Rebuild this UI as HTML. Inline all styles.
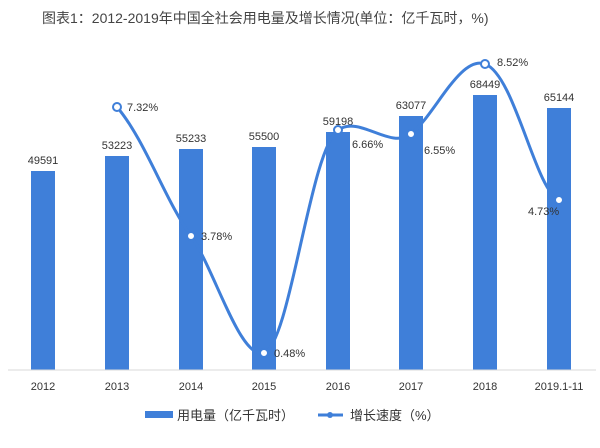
<!DOCTYPE html>
<html><head><meta charset="utf-8"><style>
body{margin:0;background:#fff;width:600px;height:443px;overflow:hidden}
text{font-family:"Liberation Sans","Noto Sans CJK SC",sans-serif}
</style></head><body>
<svg width="600" height="443" viewBox="0 0 600 443">
<text x="42" y="23" font-size="14" fill="#444">图表1：2012-2019年中国全社会用电量及增长情况(单位：亿千瓦时，%)</text>
<g fill="#3f7fd9">
<rect x="31" y="171" width="24" height="199"/>
<rect x="105" y="156" width="24" height="214"/>
<rect x="179" y="149" width="24" height="221"/>
<rect x="252" y="147" width="24" height="223"/>
<rect x="326" y="132" width="24" height="238"/>
<rect x="399" y="116" width="24" height="254"/>
<rect x="473" y="95" width="24" height="275"/>
<rect x="547" y="108" width="24" height="262"/>
</g>
<line x1="8" y1="370" x2="596" y2="370" stroke="#d9d9d9"/>
<g font-size="11" fill="#333" text-anchor="middle">
<text x="43" y="164">49591</text><text x="117" y="149">53223</text>
<text x="191" y="142">55233</text><text x="264" y="140">55500</text>
<text x="338" y="125">59198</text><text x="411" y="109">63077</text>
<text x="485" y="88">68449</text><text x="559" y="101">65144</text>
<text x="43" y="390">2012</text><text x="117" y="390">2013</text>
<text x="191" y="390">2014</text><text x="264" y="390">2015</text>
<text x="338" y="390">2016</text><text x="411" y="390">2017</text>
<text x="485" y="390">2018</text><text x="559" y="390">2019.1-11</text>
</g>
<path d="M117,107 C145,140 165,200 191,236 C215,270 240,360 264,353 C290,345 310,150 338,130 C360,115 390,150 411,134 C435,115 460,55 485,64 C515,75 535,190 559,200" fill="none" stroke="#3f7fd9" stroke-width="3"/>
<g fill="#fff" stroke="#3f7fd9" stroke-width="2">
<circle cx="117" cy="107" r="4"/><circle cx="191" cy="236" r="4"/><circle cx="264" cy="353" r="4"/>
<circle cx="338" cy="130" r="4"/><circle cx="411" cy="134" r="4"/><circle cx="485" cy="64" r="4"/><circle cx="559" cy="200" r="4"/>
</g>
<g font-size="11" fill="#333">
<text x="127" y="111">7.32%</text><text x="201" y="240">3.78%</text><text x="274" y="357">0.48%</text>
<text x="352" y="148">6.66%</text><text x="424" y="154">6.55%</text><text x="497" y="66">8.52%</text>
<text x="528" y="215">4.73%</text>
</g>
<rect x="145" y="411" width="28" height="7" fill="#3f7fd9"/>
<text x="177" y="420" font-size="13" fill="#333">用电量（亿千瓦时）</text>
<line x1="318" y1="415" x2="343" y2="415" stroke="#3f7fd9" stroke-width="3"/>
<circle cx="330" cy="415" r="3" fill="#3f7fd9"/>
<text x="350" y="420" font-size="13" fill="#333">增长速度（%）</text>
</svg>
</body></html>
